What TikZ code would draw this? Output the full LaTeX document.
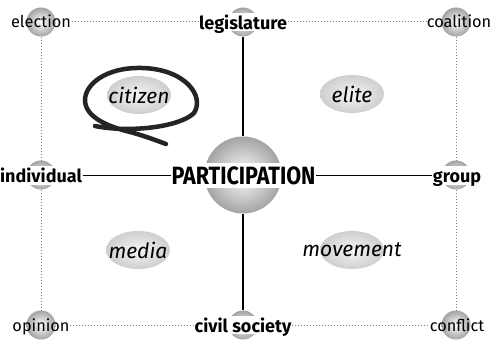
\documentclass[tikz,border=0pt]{standalone}
\usepackage{fontspec}
\setmainfont{Fira Sans}
\newfontfamily\partfont[FakeStretch=0.86]{Fira Sans}
\usetikzlibrary{shapes.geometric}
\begin{document}
\begin{tikzpicture}[x=1pt,y=-1pt,
  sphere/.style={circle,inner sep=0pt,minimum size=29pt,inner color=white,outer color=gray!72,draw=none},
  bigsphere/.style={sphere,minimum size=77pt},
  lab/.style={inner xsep=0.5pt,inner ysep=0pt,text height=14pt,text depth=2pt,font=\fontsize{16.3}{16.3}\selectfont},
  blab/.style={fill=white,inner xsep=0.5pt,inner ysep=0.5pt,text height=16pt,text depth=1.6pt,font=\fontsize{18}{18}\selectfont\bfseries},
  plab/.style={fill=white,inner xsep=0.5pt,inner ysep=1pt,text height=20pt,text depth=2.75pt,font=\fontsize{25}{25}\partfont\bfseries},
  oval/.style={ellipse,inner sep=0pt,minimum width=64pt,minimum height=38pt,inner color=white!92!gray,outer color=gray!38,
    label={[font=\fontsize{21}{21}\selectfont\itshape]center:#1}},
  dot/.style={gray,dotted,line width=1pt},
  solid line/.style={black,line width=1.3pt},
  swoosh/.style={draw=gray!28!black,line width=4.5pt,line cap=round}
]
\useasboundingbox[fill=white] (0,0) rectangle (497,347);
% spheres
\node[sphere] (sEl) at (41,22) {};
\node[sphere] (sLe) at (243,22) {};
\node[sphere] (sCo) at (456,22) {};
\node[sphere] (sIn) at (41,175) {};
\node[bigsphere] (sPa) at (243,175) {};
\node[sphere] (sGr) at (456,175) {};
\node[sphere] (sOp) at (41,325) {};
\node[sphere] (sCi) at (243,325) {};
\node[sphere] (sCf) at (456,325) {};
% labels
\node[lab] (election) at (41,22) {election};
\node[blab] (legislature) at (243,22) {legislature};
\node[lab] (coalition) at (459,22) {coalition};
\node[blab] (individual) at (41,175.5) {individual};
\node[plab] (participation) at (243.5,175.5) {PARTICIPATION};
\node[blab] (group) at (457,175.5) {group};
\node[lab] (opinion) at (41,325) {opinion};
\node[blab] (civil) at (243,325) {civil society};
\node[lab] (conflict) at (457,325) {conflict};
% dotted frame
\draw[dot] (election) -- (legislature);
\draw[dot] (legislature) -- (coalition);
\draw[dot] (opinion) -- (civil);
\draw[dot] (civil) -- (conflict);
\draw[dot] (sEl.south) -- (sIn.north);
\draw[dot] (sIn.south) -- (sOp.north);
\draw[dot] (sCo.south) -- (sGr.north);
\draw[dot] (sGr.south) -- (sCf.north);
% solid cross
\draw[solid line] (sLe.south) -- (sPa.north);
\draw[solid line] (sPa.south) -- (sCi.north);
\draw[solid line] (individual) -- (participation);
\draw[solid line] (participation) -- (group);
% swoosh
\draw[swoosh] (95,126) .. controls (130,133) and (180,127) .. (194,113)
  .. controls (205,96) and (185,69) .. (142,68)
  .. controls (105,67) and (85,85) .. (85,100)
  .. controls (85,118) and (110,127) .. (130,132)
  .. controls (145,136) and (155,140) .. (166,144);
% ovals
\node[oval=citizen] (citizen) at (139,95) {};
\node[oval=elite] (elite) at (352,94) {};
\node[oval=media] (media) at (138,250) {};
\node[oval=movement] (movement) at (352,250) {};
\end{tikzpicture}
\end{document}
